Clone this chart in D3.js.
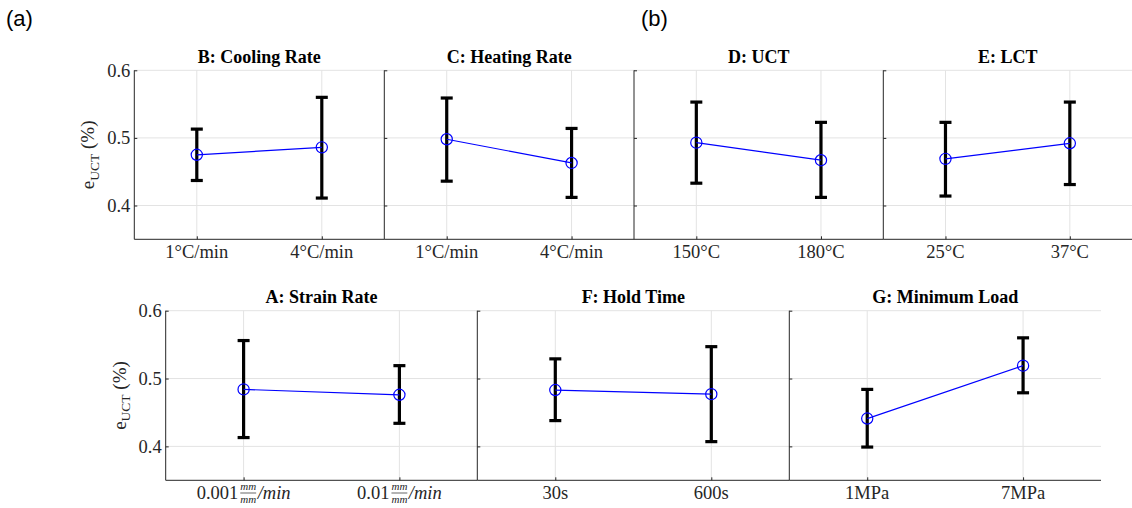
<!DOCTYPE html>
<html>
<head>
<meta charset="utf-8">
<script src="https://cdn.jsdelivr.net/npm/d3@7"></script>
<style>
  html, body { margin: 0; padding: 0; background: #fff; }
  svg { display: block; }
  .serif { font-family: "Liberation Serif", "Times New Roman", Tinos, "DejaVu Serif", serif; }
</style>
</head>
<body>
<svg id="chart" width="1132" height="508"></svg>
<script>
// ---------------- DATA ----------------
const titles = ["B: Cooling Rate", "C: Heating Rate", "D: UCT", "E: LCT",
                "A: Strain Rate", "F: Hold Time", "G: Minimum Load"];
const categories = [
  ["1°C/min", "4°C/min"],
  ["1°C/min", "4°C/min"],
  ["150°C", "180°C"],
  ["25°C", "37°C"],
  ["0.001|/min", "0.01|/min"],
  ["30s", "600s"],
  ["1MPa", "7MPa"]
];
const means = [
  [0.475, 0.486],
  [0.498, 0.463],
  [0.493, 0.467],
  [0.469, 0.492],
  [0.484, 0.476],
  [0.483, 0.477],
  [0.441, 0.519]
];
const upper = [
  [0.513, 0.560],
  [0.559, 0.514],
  [0.553, 0.523],
  [0.523, 0.553],
  [0.556, 0.519],
  [0.529, 0.547],
  [0.484, 0.560]
];
const lower = [
  [0.437, 0.411],
  [0.436, 0.412],
  [0.433, 0.412],
  [0.414, 0.431],
  [0.413, 0.434],
  [0.438, 0.407],
  [0.399, 0.479]
];
const yDomain = [0.35, 0.6];
const yTicks = [0.4, 0.5, 0.6];
const yTickLabels = ["0.4", "0.5", "0.6"];

// ---------------- LAYOUT ----------------
const panels = [
  {x0: 134.3, x1: 384.3, y0: 70.3, y1: 239.3, yLabels: true},
  {x0: 384.3, x1: 634.0, y0: 70.3, y1: 239.3, yLabels: false},
  {x0: 634.0, x1: 883.3, y0: 70.3, y1: 239.3, yLabels: false},
  {x0: 883.3, x1: 1132,  y0: 70.3, y1: 239.3, yLabels: false},
  {x0: 165.7, x1: 477.3, y0: 310.7, y1: 480.3, yLabels: true},
  {x0: 477.3, x1: 789.3, y0: 310.7, y1: 480.3, yLabels: false},
  {x0: 789.3, x1: 1101,  y0: 310.7, y1: 480.3, yLabels: false}
];

const svg = d3.select("#chart");
const textCol = "#262626";
const gridCol = "#e3e3e3";
const xTickSize = 18.5;
const yTickSize = 18.5;

// panel letters
svg.append("text").attr("x", 6).attr("y", 26)
  .style("font-family", "'Liberation Sans', Arial, sans-serif").attr("font-size", 22)
  .attr("fill", "#000").text("(a)");
svg.append("text").attr("x", 641).attr("y", 26)
  .style("font-family", "'Liberation Sans', Arial, sans-serif").attr("font-size", 22)
  .attr("fill", "#000").text("(b)");

panels.forEach((p, i) => {
  const g = svg.append("g").attr("class", "serif");
  const x = d3.scaleLinear().domain([0.5, 2.5]).range([p.x0, p.x1]);
  const y = d3.scaleLinear().domain(yDomain).range([p.y1, p.y0]);
  const xVals = [1, 2];

  // grid
  g.append("g").selectAll("line").data(yTicks).join("line")
    .attr("x1", p.x0).attr("x2", p.x1)
    .attr("y1", d => y(d)).attr("y2", d => y(d))
    .attr("stroke", gridCol).attr("stroke-width", 1);
  g.append("g").selectAll("line").data(xVals).join("line")
    .attr("x1", d => x(d)).attr("x2", d => x(d))
    .attr("y1", p.y0).attr("y2", p.y1)
    .attr("stroke", gridCol).attr("stroke-width", 1);

  // left axis with inward ticks
  const yAxis = d3.axisLeft(y).tickValues(yTicks).tickSize(-3).tickPadding(4)
    .tickFormat((d, k) => p.yLabels ? yTickLabels[k] : "");
  const ya = g.append("g").attr("transform", `translate(${p.x0},0)`).call(yAxis)
    .attr("font-family", null).attr("font-size", null);
  ya.select(".domain").attr("d", `M0,${p.y0}V${p.y1}`).attr("stroke", textCol);
  ya.selectAll(".tick line").attr("stroke", textCol);
  ya.selectAll(".tick text").attr("font-size", yTickSize).attr("fill", textCol);

  // bottom axis
  const xAxis = d3.axisBottom(x).tickValues(xVals).tickSize(-3).tickFormat("");
  const xa = g.append("g").attr("transform", `translate(0,${p.y1})`).call(xAxis)
    .attr("font-family", null).attr("font-size", null);
  xa.select(".domain").attr("d", `M${p.x0},0H${p.x1}`).attr("stroke", textCol);
  xa.selectAll(".tick line").attr("stroke", textCol);

  // x tick labels
  xVals.forEach((v, k) => {
    const lab = categories[i][k];
    const baseY = p.y1 + 19;
    if (lab.indexOf("|") >= 0) {
      const parts = lab.split("|");
      const lg = g.append("g");
      const t1 = lg.append("text").attr("x", 0).attr("y", baseY)
        .attr("font-size", xTickSize).attr("fill", textCol).text(parts[0]);
      const w1 = t1.node().getComputedTextLength();
      const fx = w1 + 2;
      const fnum = lg.append("text").attr("x", fx).attr("y", baseY - 9)
        .attr("font-style", "italic").attr("font-size", 11)
        .attr("fill", textCol).text("mm");
      const wf = fnum.node().getComputedTextLength();
      lg.append("text").attr("x", fx).attr("y", baseY + 3.5)
        .attr("font-style", "italic").attr("font-size", 11)
        .attr("fill", textCol).text("mm");
      lg.append("line").attr("x1", fx).attr("x2", fx + wf)
        .attr("y1", baseY - 6.3).attr("y2", baseY - 6.3)
        .attr("stroke", textCol).attr("stroke-width", 0.7);
      const t3 = lg.append("text").attr("x", fx + wf + 1.5).attr("y", baseY)
        .attr("font-style", "italic").attr("font-size", xTickSize)
        .attr("fill", textCol).text(parts[1]);
      const total = fx + wf + 1.5 + t3.node().getComputedTextLength();
      lg.attr("transform", `translate(${x(v) - total / 2},0)`);
    } else {
      g.append("text").attr("x", x(v)).attr("y", baseY)
        .attr("text-anchor", "middle")
        .attr("font-size", xTickSize).attr("fill", textCol)
        .text(lab);
    }
  });

  // title
  g.append("text").attr("x", (p.x0 + p.x1) / 2).attr("y", p.y0 - 7.5)
    .attr("text-anchor", "middle")
    .attr("font-weight", "bold").attr("font-size", 18)
    .attr("fill", "#000").text(titles[i]);

  // y label
  if (p.yLabels) {
    const cy = (p.y0 + p.y1) / 2;
    const yl = g.append("text")
      .attr("transform", `translate(${p.x0 - 40},${cy}) rotate(-90)`)
      .attr("text-anchor", "middle")
      .attr("font-size", 19).attr("fill", textCol);
    yl.append("tspan").text("e");
    yl.append("tspan").attr("font-size", 13.5).attr("dy", 4.5).text("UCT");
    yl.append("tspan").attr("dy", -4.5).text(" (%)");
  }

  // error bars
  const eb = g.append("g").attr("stroke", "#000").attr("stroke-width", 3.2).attr("fill", "none");
  xVals.forEach((v, k) => {
    const cx = x(v);
    eb.append("line").attr("x1", cx).attr("x2", cx)
      .attr("y1", y(lower[i][k])).attr("y2", y(upper[i][k]));
    eb.append("line").attr("x1", cx - 6).attr("x2", cx + 6)
      .attr("y1", y(upper[i][k])).attr("y2", y(upper[i][k]));
    eb.append("line").attr("x1", cx - 6).attr("x2", cx + 6)
      .attr("y1", y(lower[i][k])).attr("y2", y(lower[i][k]));
  });

  // mean line
  const line = d3.line().x((d, k) => x(xVals[k])).y(d => y(d));
  g.append("path").datum(means[i]).attr("d", line)
    .attr("fill", "none").attr("stroke", "#0000ff").attr("stroke-width", 1.2);
  g.append("g").selectAll("circle").data(means[i]).join("circle")
    .attr("cx", (d, k) => x(xVals[k])).attr("cy", d => y(d)).attr("r", 5.6)
    .attr("fill", "none").attr("stroke", "#0000ff").attr("stroke-width", 1.2);
});
</script>
</body>
</html>
